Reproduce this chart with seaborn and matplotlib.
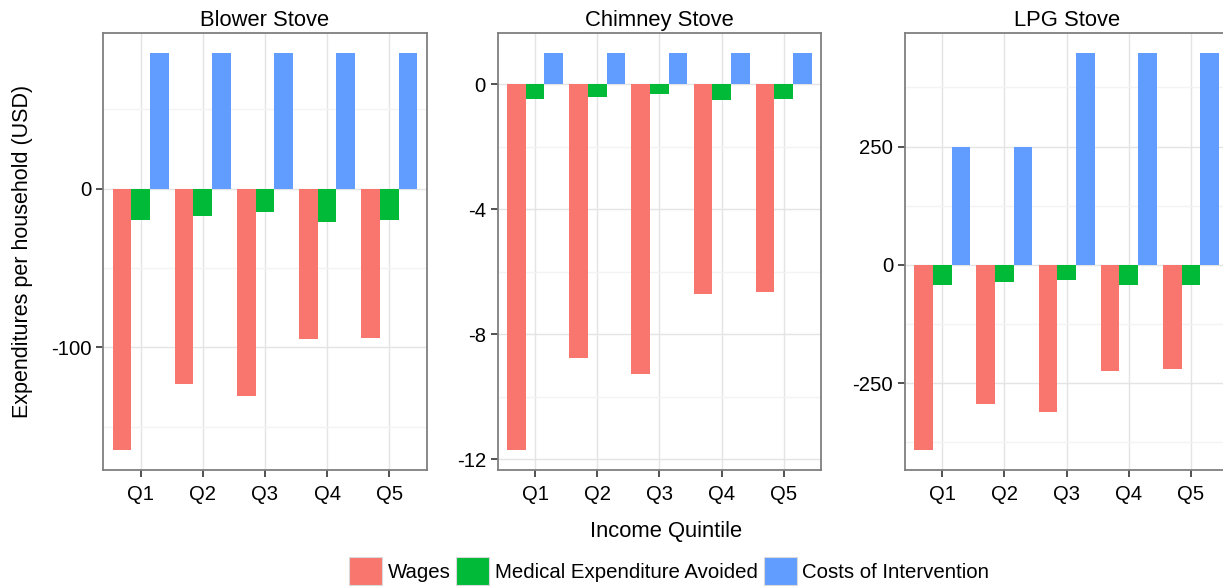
import matplotlib
matplotlib.use("Agg")
import matplotlib.pyplot as plt
from matplotlib.patches import Patch
from matplotlib.ticker import FixedLocator
import numpy as np
import pandas as pd
import seaborn as sns

# ---- data -------------------------------------------------------------
quintiles = ["Q1", "Q2", "Q3", "Q4", "Q5"]
stoves = ["Blower Stove", "Chimney Stove", "LPG Stove"]
components = ["Wages", "Medical Expenditure Avoided", "Costs of Intervention"]

blower_wages = [-165, -123, -131, -95, -94]
blower_medical = [-20, -17, -15, -21, -19.5]
blower_costs = [85.5, 85.5, 85.5, 85.5, 85.5]

chimney_wages = [-11.72, -8.75, -9.26, -6.73, -6.64]
chimney_medical = [-0.46, -0.40, -0.33, -0.50, -0.46]
chimney_costs = [1.0, 1.0, 1.0, 1.0, 1.0]

lpg_wages = [-392, -293, -310, -225, -221]
lpg_medical = [-43, -36, -32, -43, -43]
lpg_costs = [250, 250, 448, 448, 448]

# y-axis breaks per panel (major, minor)
blower_major = [-100, 0]
blower_minor = [-150, -50, 50]
chimney_major = [-12, -8, -4, 0]
chimney_minor = [-10, -6, -2]
lpg_major = [-250, 0, 250]
lpg_minor = [-375, -125, 125, 375]

palette = ["#F8766D", "#00BA38", "#619CFF"]

# ---- tidy table ------------------------------------------------------
series = {
    "Blower Stove": (blower_wages, blower_medical, blower_costs),
    "Chimney Stove": (chimney_wages, chimney_medical, chimney_costs),
    "LPG Stove": (lpg_wages, lpg_medical, lpg_costs),
}
rows = []
for stove, vals in series.items():
    for comp, v in zip(components, vals):
        for q, x in zip(quintiles, v):
            rows.append({"Stove": stove, "Component": comp, "Quintile": q, "Value": x})
df = pd.DataFrame(rows)

breaks = {
    "Blower Stove": (blower_major, blower_minor),
    "Chimney Stove": (chimney_major, chimney_minor),
    "LPG Stove": (lpg_major, lpg_minor),
}

# ---- style -------------------------------------------------------------
sns.set_theme(style="white")
plt.rcParams["font.family"] = ["Liberation Sans", "DejaVu Sans"]
plt.rcParams["text.color"] = "black"

W, H = 1223, 586
fig = plt.figure(figsize=(W / 100, H / 100), dpi=100)
fig.patch.set_facecolor("white")

panel_left = [103.3, 497.7, 905.0]
panel_w = 323.3
panel_top, panel_bottom = 33.0, 470.3

for stove, left in zip(stoves, panel_left):
    ax = fig.add_axes([left / W, 1 - panel_bottom / H, panel_w / W,
                       (panel_bottom - panel_top) / H])
    sub = df[df["Stove"] == stove]
    sns.barplot(data=sub, x="Quintile", y="Value", hue="Component",
                order=quintiles, hue_order=components, palette=palette,
                width=0.9, gap=0, saturation=1, errorbar=None,
                linewidth=0, legend=False, ax=ax)

    lo = min(sub["Value"].min(), 0)
    hi = max(sub["Value"].max(), 0)
    pad = 0.05 * (hi - lo)
    ax.set_ylim(lo - pad, hi + pad)
    ax.set_xlim(-0.6, len(quintiles) - 0.4)

    major, minor = breaks[stove]
    ax.yaxis.set_major_locator(FixedLocator(major))
    ax.yaxis.set_minor_locator(FixedLocator(minor))
    ax.set_yticklabels([f"{m:g}" for m in major])

    ax.set_axisbelow(True)
    ax.grid(True, which="major", color="#e4e4e4", linewidth=1.0)
    ax.grid(True, which="minor", axis="y", color="#f3f3f3", linewidth=1.0)

    for sp in ax.spines.values():
        sp.set_visible(True)
        sp.set_color("#7f7f7f")
        sp.set_linewidth(1.3)

    ax.tick_params(axis="both", which="major", direction="out", length=5,
                   width=1.2, color="#333333", labelsize=14.6,
                   labelcolor="black", bottom=True, left=True)
    ax.tick_params(axis="y", pad=3.5)
    ax.tick_params(axis="x", pad=5.5)
    ax.tick_params(which="minor", left=False, bottom=False)

    ax.set_xlabel("")
    ax.set_ylabel("")
    ax.set_title(stove, fontsize=15.8, pad=5, color="black")

# shared axis titles
cx = (panel_left[0] + panel_left[-1] + panel_w) / 2
fig.text(cx / W, 1 - 531 / H, "Income Quintile", ha="center", va="center",
         fontsize=15.8)
fig.text(23 / W, 1 - (panel_top + panel_bottom) / 2 / H,
         "Expenditures per household (USD)", ha="center", va="center",
         rotation=90, fontsize=15.5)

handles = [Patch(facecolor=c, edgecolor="#d9d9d9", linewidth=0.8, label=l)
           for c, l in zip(palette, components)]
fig.legend(handles=handles, loc="center", ncol=3,
           bbox_to_anchor=(669 / W, 1 - 571 / H), frameon=False,
           fontsize=14.7, handlelength=1.62, handleheight=1.76,
           handletextpad=0.25, columnspacing=0.3, borderpad=0,
           borderaxespad=0)

fig.savefig("out.png", dpi=100, facecolor="white")
